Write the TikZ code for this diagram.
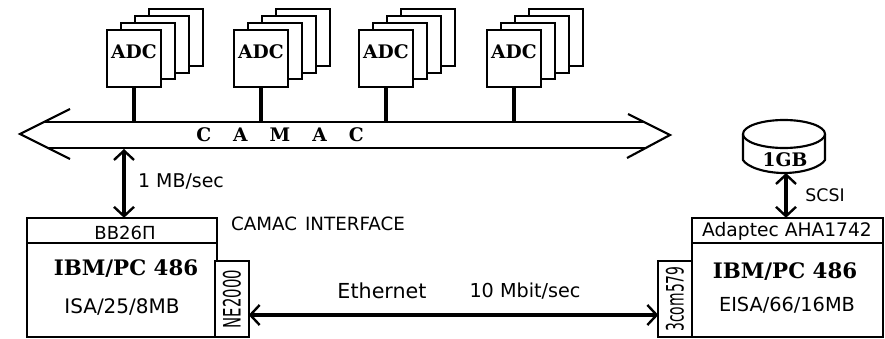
\documentclass[tikz,border=0pt]{standalone}
\usepackage{graphicx}
\usepackage{fontspec}
\setmainfont{DejaVu Sans}
\newfontfamily\slabfont{DejaVu Serif}[BoldFont={DejaVu Serif Bold}]
\usetikzlibrary{arrows.meta}

\tikzset{
    box/.style={draw,line width=1.6pt,fill=white,inner sep=0pt,outer sep=0pt},
    adcbox/.style={box,minimum width=41pt,minimum height=42.5pt},
    cardbox/.style={box,rotate=90,minimum width=57pt,minimum height=25pt},
    slab/.style={font=\slabfont\bfseries\fontsize{#1}{#1}\selectfont},
    plain/.style={font=\fontsize{#1}{#1}\selectfont},
    link/.style={{Straight Barb[length=7pt,width=15pt,line width=1.8pt]}-{Straight Barb[length=7pt,width=15pt,line width=1.8pt]},line width=3pt},
}

\begin{document}
\begin{tikzpicture}[x=0.75pt,y=-0.75pt]

            \useasboundingbox (0,0) rectangle (885,339);

            % bus
            \coordinate (tipl) at (20,134);
            \coordinate (tipr) at (670,135);
            \draw[line width=1.6pt] (70,109) -- (tipl) -- (70,159);
            \draw[line width=1.6pt] (628,114) -- (tipr) -- (627,158);
            \draw[line width=1.6pt] (44,122) coordinate (bustopl) -- (644,122);
            \draw[line width=1.6pt] (48,148) -- (646,148);
            \node[slab=14] (camac) at (280,135) {C\hspace{16.5pt}A\hspace{16.5pt}M\hspace{16.5pt}A\hspace{16.5pt}C};

            % ADC stacks
            \foreach \n/\c in {1/134,2/261,3/386,4/514} {
                \node[adcbox] (adc\n-d) at (\c+42,37.5) {};
                \node[adcbox] (adc\n-c) at (\c+28,44.5) {};
                \node[adcbox] (adc\n-b) at (\c+14,51) {};
                \node[adcbox] (adc\n) at (\c,58.5) {};
                \node[slab=14] (adclabel\n) at (\c,52) {ADC};
                \draw[line width=3.4pt] (adc\n.south) -- (adc\n.south |- bustopl);
            }

            % left PC
            \node[box,minimum width=142.5pt,minimum height=19pt] (bb) at (122,230.5) {};
            \node[plain=13.5] (bblabel) at (125,233) {ВВ26П};
            \node[box,minimum width=142.5pt,minimum height=70.5pt] (pcl) at (122,290) {};
            \node[slab=16] (pcltitle) at (126,269) {IBM/PC 486};
            \node[plain=15] (pclspec) at (122,307) {ISA/25/8MB};
            \node[cardbox,plain=18] (ne) at (232,299) {\scalebox{0.62}[1]{NE2000}};
            \node[plain=13.7] (iface) at (318,224) {CAMAC\hspace{6pt}INTERFACE};

            % right PC
            \node[box,minimum width=143pt,minimum height=19pt] (aha) at (787.5,230.5) {};
            \node[plain=14] (ahalabel) at (787,231) {Adaptec AHA1742};
            \node[box,minimum width=143pt,minimum height=70.5pt] (pcr) at (787.5,290) {};
            \node[slab=16] (pcrtitle) at (785,272) {IBM/PC 486};
            \node[plain=14.5] (pcrspec) at (787,305) {EISA/66/16MB};
            \node[cardbox,plain=18] (com) at (675,299) {\scalebox{0.58}[1]{3com579}};

            % disk
            \draw[line width=1.6pt,fill=white] (743,134) -- (743,160) .. controls (747,167) and (765,173) .. (784,173)
                .. controls (803,173) and (821,167) .. (825,160) -- (825,134);
            \draw[line width=1.6pt,fill=white] (784,134) ellipse [x radius=41,y radius=14];
            \node[slab=14] (disk) at (785,160) {1GB};
            \coordinate (diskbot) at (786,173);

            % links
            \coordinate (busdown) at (124,149);
            \draw[link] (busdown) -- (busdown |- bb.north);
            \draw[link] (diskbot) -- (diskbot |- aha.north);
            \coordinate (ethrow) at (450,315);
            \draw[link] (ne.south |- ethrow) -- (com.north |- ethrow);

            \node[plain=14.2] (rate) at (181,181) {1 MB/sec};
            \node[plain=13] (scsi) at (825,195) {SCSI};
            \node[plain=15.5] (eth) at (382,291) {Ethernet};
            \node[plain=14.4] (ethrate) at (525,291) {10 Mbit/sec};
\end{tikzpicture}
\end{document}
